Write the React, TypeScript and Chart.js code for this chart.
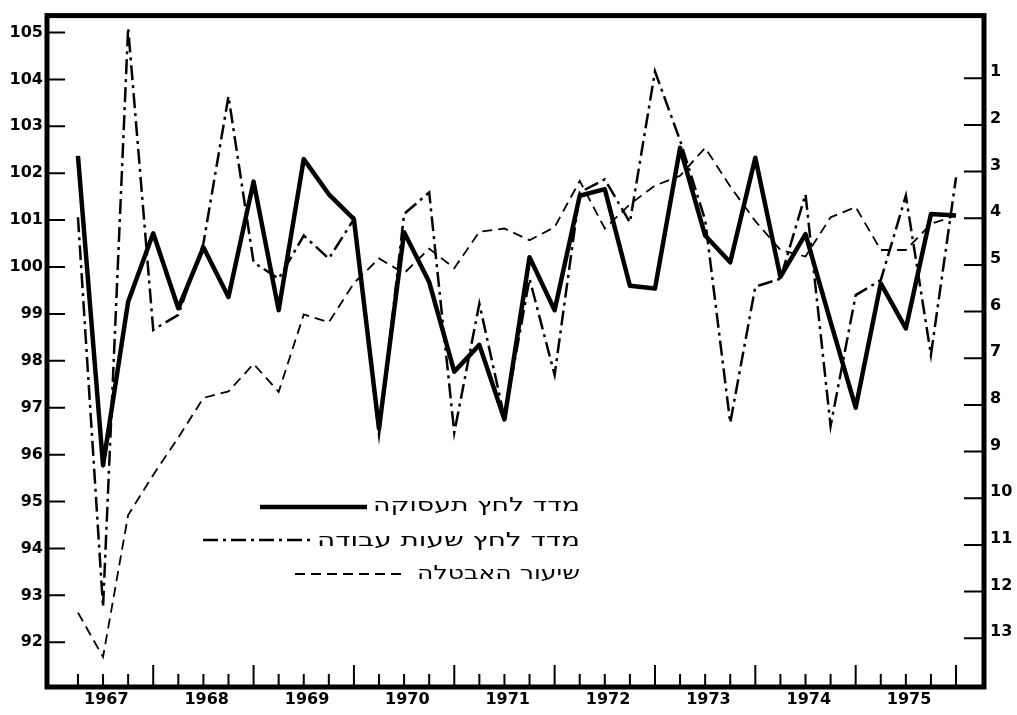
import React, { useEffect, useRef } from 'react';
import { Chart, registerables } from 'chart.js';

Chart.register(...registerables);

// ---- data (quarterly, 1967 Q1 .. 1975 Q4) ----
const years = ['1967', '1968', '1969', '1970', '1971', '1972', '1973', '1974', '1975'];
const leftTicks = [92, 93, 94, 95, 96, 97, 98, 99, 100, 101, 102, 103, 104, 105];
const rightTicks = [1, 2, 3, 4, 5, 6, 7, 8, 9, 10, 11, 12, 13];
const seriesNames = ['מדד לחץ תעסוקה', 'מדד לחץ שעות עבודה', 'שיעור האבטלה'];

const employmentPressure = [
  102.37, 95.77, 99.26, 100.72, 99.12, 100.42, 99.36, 101.82, 99.08, 102.3, 101.55, 101.02,
  96.55, 100.74, 99.68, 97.77, 98.34, 96.75, 100.21, 99.08, 101.52, 101.66, 99.6, 99.54,
  102.54, 100.67, 100.1, 102.33, 99.79, 100.7, 98.83, 97.0, 99.65, 98.69, 101.13, 101.1,
];
const hoursPressure = [
  101.06, 92.75, 105.1, 98.66, 98.98, 100.5, 103.64, 100.1, 99.75, 100.67, 100.18, 101.02,
  96.43, 101.13, 101.59, 96.47, 99.22, 96.79, 99.75, 97.7, 101.59, 101.87, 100.95, 104.17,
  102.7, 101.0, 96.68, 99.58, 99.75, 101.55, 96.61, 99.4, 99.72, 101.52, 98.13, 101.91,
];
const unemploymentRate = [
  12.45, 13.4, 10.36, 9.5, 8.7, 7.85, 7.71, 7.12, 7.72, 6.06, 6.23, 5.39,
  4.86, 5.18, 4.65, 5.07, 4.29, 4.22, 4.47, 4.19, 3.2, 4.22, 3.7, 3.3,
  3.09, 2.49, 3.32, 4.06, 4.68, 4.82, 3.98, 3.76, 4.68, 4.68, 4.12, 3.94,
];

const FONT = "'DejaVu Sans', sans-serif";
const INK = '#000';

const framePlugin = {
  id: 'frameAndLegend',
  afterDatasetsDraw(chart: any) {
    const { ctx, chartArea: a, scales } = chart;
    ctx.save();
    ctx.strokeStyle = INK;
    ctx.fillStyle = INK;
    ctx.setLineDash([]);
    // inside tick marks
    ctx.lineWidth = 2;
    ctx.beginPath();
    scales.y.ticks.forEach((t: any) => {
      const y = scales.y.getPixelForValue(t.value);
      ctx.moveTo(a.left, y);
      ctx.lineTo(a.left + 18, y);
    });
    scales.y1.ticks.forEach((t: any) => {
      const y = scales.y1.getPixelForValue(t.value);
      ctx.moveTo(a.right - 20, y);
      ctx.lineTo(a.right, y);
    });
    for (let k = 0; k < employmentPressure.length; k++) {
      const x = scales.x.getPixelForValue(k);
      const len = k % 4 === 3 ? 22 : 13;
      ctx.moveTo(x, a.bottom);
      ctx.lineTo(x, a.bottom - len);
    }
    ctx.stroke();
    // frame
    ctx.lineWidth = 5;
    ctx.strokeRect(a.left, a.top, a.right - a.left, a.bottom - a.top);

    // legend
    const rows = [
      { y: 507, ty: 506, x0: 260, x1: 367, w: 207 },
      { y: 540, ty: 541, x0: 203, x1: 312, w: 263 },
      { y: 574, ty: 574, x0: 295, x1: 407, w: 163 },
    ];
    rows.forEach((r, i) => {
      const ds = chart.data.datasets[i];
      ctx.lineWidth = ds.borderWidth;
      ctx.setLineDash(ds.borderDash || []);
      ctx.lineCap = 'butt';
      ctx.beginPath();
      ctx.moveTo(r.x0, r.y);
      ctx.lineTo(r.x1, r.y);
      ctx.stroke();
      ctx.setLineDash([]);
      ctx.font = `19px ${FONT}`;
      ctx.direction = 'rtl';
      ctx.textAlign = 'right';
      ctx.textBaseline = 'middle';
      const label = seriesNames[i];
      const natural = ctx.measureText(label).width;
      const sx = Math.max(0.8, Math.min(1.8, r.w / natural));
      ctx.save();
      ctx.translate(580, r.ty);
      ctx.scale(sx, 1);
      ctx.fillText(label, 0, 0);
      ctx.restore();
    });
    ctx.restore();
  },
};

export default function App() {
  const ref = useRef<HTMLCanvasElement | null>(null);

  useEffect(() => {
    if (!ref.current) return;
    const toPoints = (arr: number[]) => arr.map((v, i) => ({ x: i, y: v }));
    const tickFont = { family: FONT, size: 16, weight: 'bold' as const };
    const chart = new Chart(ref.current, {
      type: 'line',
      data: {
        datasets: [
          {
            label: seriesNames[0],
            data: toPoints(employmentPressure),
            yAxisID: 'y',
            borderColor: INK,
            borderWidth: 4.5,
            borderDash: [],
            borderJoinStyle: 'round',
            pointRadius: 0,
            tension: 0,
          },
          {
            label: seriesNames[1],
            data: toPoints(hoursPressure),
            yAxisID: 'y',
            borderColor: INK,
            borderWidth: 2.5,
            borderDash: [15, 5, 3, 5],
            pointRadius: 0,
            tension: 0,
          },
          {
            label: seriesNames[2],
            data: toPoints(unemploymentRate),
            yAxisID: 'y1',
            borderColor: INK,
            borderWidth: 1.8,
            borderDash: [10, 6],
            pointRadius: 0,
            tension: 0,
          },
        ],
      },
      options: {
        animation: false,
        responsive: false,
        devicePixelRatio: 1,
        layout: { padding: { top: 12, left: 0, right: 0, bottom: 0 } },
        plugins: { legend: { display: false }, tooltip: { enabled: false }, title: { display: false } },
        scales: {
          x: {
            type: 'linear',
            position: 'bottom',
            min: -1.234,
            max: 36.115,
            grid: { display: false, drawTicks: false },
            border: { display: false },
            afterBuildTicks: (s: any) => {
              s.ticks = years.map((_, j) => ({ value: j * 4 + 1.13 }));
            },
            afterFit: (s: any) => {
              s.height = 28;
            },
            ticks: {
              autoSkip: false,
              maxRotation: 0,
              padding: 3,
              color: INK,
              font: tickFont,
              callback: (_v: any, idx: number) => years[idx],
            },
          },
          y: {
            type: 'linear',
            position: 'left',
            min: 91.046,
            max: 105.36,
            grid: { display: false, drawTicks: false },
            border: { display: false },
            afterBuildTicks: (s: any) => {
              s.ticks = leftTicks.map((v) => ({ value: v }));
            },
            afterFit: (s: any) => {
              s.width = 47;
            },
            ticks: { padding: 4, color: INK, font: tickFont, callback: (v: any) => String(v) },
          },
          y1: {
            type: 'linear',
            position: 'right',
            reverse: true,
            min: -0.343,
            max: 14.044,
            grid: { display: false, drawTicks: false },
            border: { display: false },
            afterBuildTicks: (s: any) => {
              s.ticks = rightTicks.map((v) => ({ value: v }));
            },
            afterFit: (s: any) => {
              s.width = 33;
            },
            ticks: { padding: 6, labelOffset: -6, color: INK, font: tickFont, callback: (v: any) => String(v) },
          },
        },
      },
      plugins: [framePlugin],
    });
    return () => chart.destroy();
  }, []);

  return (
    <div style={{ position: 'fixed', left: 0, top: 0, width: 1017, height: 715, background: '#fff' }}>
      <canvas ref={ref} width={1017} height={715} style={{ display: 'block', width: 1017, height: 715 }} />
    </div>
  );
}
